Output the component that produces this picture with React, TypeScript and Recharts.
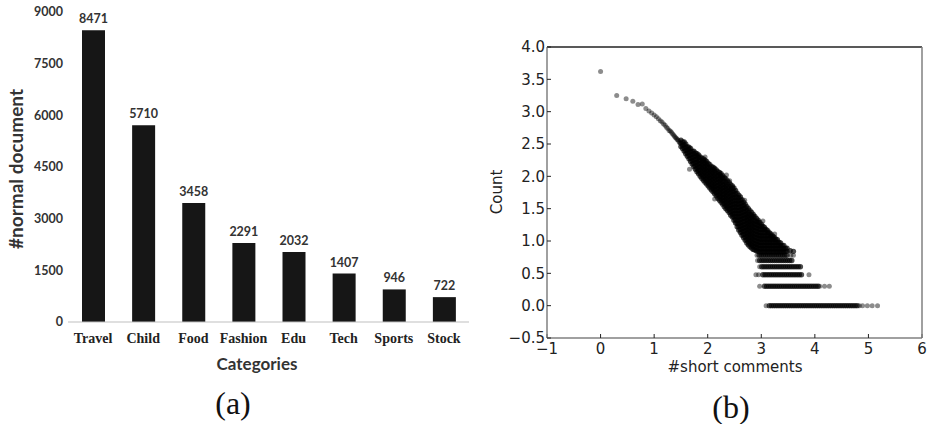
import { BarChart, Bar, XAxis, YAxis, LabelList, ScatterChart, Scatter } from 'recharts';

// (a) documents per category
const categories = ['Travel', 'Child', 'Food', 'Fashion', 'Edu', 'Tech', 'Sports', 'Stock'];
const documentCounts = [8471, 5710, 3458, 2291, 2032, 1407, 946, 722];
const countTicks = [0, 1500, 3000, 4500, 6000, 7500, 9000];

// (b) log-log scatter
const xTicks = [-1, 0, 1, 2, 3, 4, 5, 6];
const yTicks = [-0.5, 0, 0.5, 1, 1.5, 2, 2.5, 3, 3.5, 4];

// sparse head of the curve
const headX = [0, 0.301, 0.477, 0.602, 0.699, 0.778, 0.845, 0.903, 0.954, 1.0, 1.041, 1.079, 1.114, 1.146, 1.176, 1.204, 1.23, 1.255, 1.279, 1.301, 1.322, 1.342, 1.362, 1.38, 1.398, 1.415, 1.431, 1.447, 1.462, 1.477];
const headY = [3.62, 3.25, 3.2, 3.16, 3.11, 3.12, 3.05, 3.01, 2.98, 2.95, 2.92, 2.89, 2.86, 2.84, 2.81, 2.79, 2.76, 2.74, 2.71, 2.7, 2.68, 2.66, 2.64, 2.62, 2.6, 2.59, 2.57, 2.56, 2.54, 2.52];

// dense band, one column of y values per x
const bandColumns: [number, number[]][] = [
  [1.5, [2.46, 2.51, 2.56]],
  [1.53, [2.43, 2.48, 2.53]],
  [1.56, [2.39, 2.44, 2.49, 2.53]],
  [1.59, [2.35, 2.4, 2.45, 2.5]],
  [1.62, [2.31, 2.36, 2.41, 2.46]],
  [1.65, [2.27, 2.32, 2.37, 2.42, 2.45]],
  [1.68, [2.23, 2.28, 2.33, 2.38, 2.43]],
  [1.71, [2.19, 2.24, 2.29, 2.34, 2.39]],
  [1.74, [2.15, 2.2, 2.25, 2.3, 2.35, 2.39]],
  [1.77, [2.11, 2.16, 2.21, 2.26, 2.31, 2.36]],
  [1.8, [2.07, 2.12, 2.17, 2.22, 2.27, 2.32, 2.35]],
  [1.83, [2.04, 2.09, 2.14, 2.19, 2.24, 2.29, 2.33]],
  [1.86, [2.0, 2.05, 2.1, 2.15, 2.2, 2.25, 2.3]],
  [1.89, [1.97, 2.02, 2.07, 2.12, 2.17, 2.22, 2.28]],
  [1.92, [1.94, 1.99, 2.04, 2.09, 2.14, 2.19, 2.24, 2.27]],
  [1.95, [1.91, 1.96, 2.01, 2.06, 2.11, 2.16, 2.21, 2.25]],
  [1.98, [1.88, 1.93, 1.98, 2.03, 2.08, 2.13, 2.18, 2.23]],
  [2.01, [1.85, 1.9, 1.95, 2.0, 2.05, 2.1, 2.15, 2.2]],
  [2.04, [1.82, 1.87, 1.92, 1.97, 2.02, 2.07, 2.12, 2.18]],
  [2.07, [1.79, 1.84, 1.89, 1.94, 1.99, 2.04, 2.09, 2.15]],
  [2.1, [1.76, 1.81, 1.86, 1.91, 1.96, 2.01, 2.06, 2.11, 2.14]],
  [2.13, [1.73, 1.78, 1.83, 1.88, 1.93, 1.98, 2.03, 2.08, 2.12]],
  [2.16, [1.7, 1.75, 1.8, 1.85, 1.9, 1.95, 2.0, 2.05, 2.1]],
  [2.19, [1.66, 1.71, 1.76, 1.81, 1.86, 1.91, 1.96, 2.01, 2.07]],
  [2.22, [1.63, 1.68, 1.73, 1.78, 1.83, 1.88, 1.93, 1.98, 2.03, 2.06]],
  [2.25, [1.6, 1.65, 1.7, 1.75, 1.8, 1.85, 1.9, 1.95, 2.0, 2.04]],
  [2.28, [1.57, 1.62, 1.67, 1.72, 1.77, 1.82, 1.87, 1.92, 1.97, 2.01]],
  [2.31, [1.53, 1.58, 1.63, 1.68, 1.73, 1.78, 1.83, 1.88, 1.93, 1.98]],
  [2.34, [1.5, 1.55, 1.6, 1.65, 1.7, 1.75, 1.8, 1.85, 1.9, 1.96]],
  [2.37, [1.47, 1.52, 1.57, 1.62, 1.67, 1.72, 1.77, 1.82, 1.87, 1.93]],
  [2.4, [1.44, 1.49, 1.54, 1.59, 1.64, 1.69, 1.74, 1.79, 1.84, 1.9]],
  [2.43, [1.4, 1.45, 1.5, 1.55, 1.6, 1.65, 1.7, 1.75, 1.8, 1.87]],
  [2.46, [1.37, 1.42, 1.47, 1.52, 1.57, 1.62, 1.67, 1.72, 1.77, 1.82, 1.85]],
  [2.49, [1.32, 1.37, 1.42, 1.47, 1.52, 1.57, 1.62, 1.67, 1.72, 1.77, 1.82]],
  [2.52, [1.28, 1.33, 1.38, 1.43, 1.48, 1.53, 1.58, 1.63, 1.68, 1.73, 1.78]],
  [2.55, [1.22, 1.27, 1.32, 1.37, 1.42, 1.47, 1.52, 1.57, 1.62, 1.67, 1.74]],
  [2.58, [1.17, 1.22, 1.27, 1.32, 1.37, 1.42, 1.47, 1.52, 1.57, 1.62, 1.67, 1.71]],
  [2.61, [1.13, 1.18, 1.23, 1.28, 1.33, 1.38, 1.43, 1.48, 1.53, 1.58, 1.63, 1.68]],
  [2.64, [1.09, 1.14, 1.19, 1.24, 1.29, 1.34, 1.39, 1.44, 1.49, 1.54, 1.59, 1.64]],
  [2.67, [1.05, 1.1, 1.15, 1.2, 1.25, 1.3, 1.35, 1.4, 1.45, 1.5, 1.55, 1.6]],
  [2.7, [1.01, 1.06, 1.11, 1.16, 1.21, 1.26, 1.31, 1.36, 1.41, 1.46, 1.51, 1.57]],
  [2.73, [0.97, 1.02, 1.07, 1.12, 1.17, 1.22, 1.27, 1.32, 1.37, 1.42, 1.47, 1.53]],
  [2.76, [0.94, 0.99, 1.04, 1.09, 1.14, 1.19, 1.24, 1.29, 1.34, 1.39, 1.44, 1.5]],
  [2.79, [0.91, 0.96, 1.01, 1.06, 1.11, 1.16, 1.21, 1.26, 1.31, 1.36, 1.41, 1.47]],
  [2.82, [0.89, 0.94, 0.99, 1.04, 1.09, 1.14, 1.19, 1.24, 1.29, 1.34, 1.39, 1.44]],
  [2.85, [0.87, 0.92, 0.97, 1.02, 1.07, 1.12, 1.17, 1.22, 1.27, 1.32, 1.37, 1.41]],
  [2.88, [0.86, 0.91, 0.96, 1.01, 1.06, 1.11, 1.16, 1.21, 1.26, 1.31, 1.38]],
  [2.91, [0.85, 0.9, 0.95, 1.0, 1.05, 1.1, 1.15, 1.2, 1.25, 1.3, 1.35]],
  [2.94, [0.84, 0.89, 0.94, 0.99, 1.04, 1.09, 1.14, 1.19, 1.24, 1.29, 1.32]],
  [2.97, [0.83, 0.88, 0.93, 0.98, 1.03, 1.08, 1.13, 1.18, 1.23, 1.29]],
  [3.0, [0.83, 0.88, 0.93, 0.98, 1.03, 1.08, 1.13, 1.18, 1.23, 1.26]],
  [3.03, [0.83, 0.88, 0.93, 0.98, 1.03, 1.08, 1.13, 1.18, 1.23]],
  [3.06, [0.83, 0.88, 0.93, 0.98, 1.03, 1.08, 1.13, 1.18, 1.21]],
  [3.09, [0.83, 0.88, 0.93, 0.98, 1.03, 1.08, 1.13, 1.18]],
  [3.12, [0.83, 0.88, 0.93, 0.98, 1.03, 1.08, 1.13, 1.16]],
  [3.15, [0.83, 0.88, 0.93, 0.98, 1.03, 1.08, 1.13]],
  [3.18, [0.83, 0.88, 0.93, 0.98, 1.03, 1.08, 1.11]],
  [3.21, [0.83, 0.88, 0.93, 0.98, 1.03, 1.08]],
  [3.24, [0.83, 0.88, 0.93, 0.98, 1.03, 1.06]],
  [3.27, [0.83, 0.88, 0.93, 0.98, 1.03]],
  [3.3, [0.83, 0.88, 0.93, 0.98, 1.02]],
  [3.33, [0.83, 0.88, 0.93, 0.98]],
  [3.36, [0.83, 0.88, 0.93, 0.97]],
  [3.39, [0.83, 0.88, 0.93]],
  [3.42, [0.83, 0.88, 0.93]],
  [3.45, [0.84, 0.89]],
  [3.48, [0.84, 0.89]],
  [3.54, [0.85]],
  [3.6, [0.84]],
];

// discrete rows at low counts: log10(1), log10(2) ...
const rowLevels = [0, 0.301, 0.477, 0.602, 0.699, 0.778];
const rowXs: number[][] = [
  [3.15, 3.19, 3.23, 3.27, 3.31, 3.35, 3.39, 3.43, 3.47, 3.51, 3.55, 3.59, 3.63, 3.67, 3.71, 3.75, 3.79, 3.83, 3.87, 3.91, 3.95, 3.99, 4.03, 4.07, 4.11, 4.15, 4.19, 4.23, 4.27, 4.31, 4.35, 4.39, 4.43, 4.47, 4.51, 4.55, 4.59, 4.63, 4.67, 4.71, 4.75, 4.79],
  [3.06, 3.1, 3.14, 3.18, 3.22, 3.26, 3.3, 3.34, 3.38, 3.42, 3.46, 3.5, 3.54, 3.58, 3.62, 3.66, 3.7, 3.74, 3.78, 3.82, 3.86, 3.9, 3.94, 3.98, 4.02, 4.06],
  [3.03, 3.07, 3.11, 3.15, 3.19, 3.23, 3.27, 3.31, 3.35, 3.39, 3.43, 3.47, 3.51, 3.55, 3.59, 3.63, 3.67, 3.71, 3.75],
  [3.01, 3.05, 3.09, 3.13, 3.17, 3.21, 3.25, 3.29, 3.33, 3.37, 3.41, 3.45, 3.49, 3.53, 3.57, 3.61, 3.65, 3.69, 3.73],
  [2.97, 3.01, 3.05, 3.09, 3.13, 3.17, 3.21, 3.25, 3.29, 3.33, 3.37, 3.41, 3.45, 3.49, 3.53, 3.57],
  [2.96, 3.0, 3.04, 3.08, 3.12, 3.16, 3.2, 3.24, 3.28, 3.32, 3.36, 3.4, 3.44, 3.48],
];

// lone points: row ends and strays around the band
const strayX = [3.09, 4.83, 4.89, 4.98, 5.07, 5.17, 2.97, 4.09, 4.18, 4.27, 2.9, 2.95, 3.89, 2.97, 2.93, 2.92, 3.55, 3.6, 1.66, 2.13, 2.35, 2.69, 3.03, 3.25, 2.41, 1.95];
const strayY = [0, 0, 0, 0, 0, 0, 0.301, 0.301, 0.301, 0.301, 0.477, 0.477, 0.477, 0.602, 0.699, 0.778, 0.778, 0.778, 2.11, 1.65, 2.02, 1.63, 1.31, 1.11, 1.93, 2.3];

const barData = categories.map((category, i) => ({ category, count: documentCounts[i] }));

const densePoints = [
  ...bandColumns.flatMap(([x, ys]) => ys.map((y) => ({ x, y }))),
  ...rowLevels.flatMap((y, i) => rowXs[i].map((x) => ({ x, y }))),
];
const sparsePoints = [
  ...headX.map((x, i) => ({ x, y: headY[i] })),
  ...strayX.map((x, i) => ({ x, y: strayY[i] })),
];

const minus = (v: number, digits: number) => {
  const s = Math.abs(v).toFixed(digits);
  return v < 0 ? '\u2212' + s : s;
};

const SparseDot = (props: any) => (
  <circle cx={props.cx} cy={props.cy} r={2.5} fill="#000" fillOpacity={0.45} />
);
const DenseDot = (props: any) => (
  <circle cx={props.cx} cy={props.cy} r={2.7} fill="#000" fillOpacity={0.7} />
);

const calibri = 'Lato, "Open Sans", sans-serif';
const dejavu = '"DejaVu Sans", sans-serif';

export default function App() {
  return (
    <div style={{ position: 'absolute', left: 0, top: 0, width: 932, height: 424, background: '#fff', overflow: 'hidden' }}>
      {/* (a) bar chart */}
      <div style={{ position: 'absolute', left: 0, top: 0 }}>
        <BarChart width={470} height={424} data={barData} margin={{ top: 12, right: 1, bottom: 72, left: 8 }}>
          <XAxis
            dataKey="category"
            height={30}
            interval={0}
            axisLine={{ stroke: '#bfbfbf', strokeWidth: 1 }}
            tickLine={false}
            tickMargin={5}
            tick={{ fill: '#222', fontFamily: '"Liberation Serif", serif', fontWeight: 700, fontSize: 14 }}
          />
          <YAxis
            width={60}
            domain={[0, 9000]}
            ticks={countTicks}
            interval={0}
            axisLine={false}
            tickLine={false}
            tickSize={3}
            tickMargin={2}
            tick={{ fill: '#333', fontFamily: calibri, fontWeight: 700, fontSize: 12.5 }}
          />
          <Bar dataKey="count" fill="#161616" barSize={23} isAnimationActive={false}>
            <LabelList dataKey="count" position="top" offset={7} fill="#333" fontSize={12.5} fontWeight={700} fontFamily={calibri} />
          </Bar>
        </BarChart>
      </div>
      <div style={{ position: 'absolute', left: 15, top: 169, transform: 'translate(-50%, -50%) rotate(-90deg)', fontFamily: calibri, fontWeight: 700, fontSize: 19, color: '#333', whiteSpace: 'nowrap' }}>
        #normal document
      </div>
      <div style={{ position: 'absolute', left: 257, top: 363, transform: 'translate(-50%, -50%)', fontFamily: calibri, fontWeight: 700, fontSize: 17, color: '#333', whiteSpace: 'nowrap' }}>
        Categories
      </div>
      <div style={{ position: 'absolute', left: 233, top: 403, transform: 'translate(-50%, -50%)', fontFamily: '"Liberation Serif", serif', fontSize: 32, color: '#111', lineHeight: 1 }}>
        (a)
      </div>

      {/* (b) scatter plot */}
      <div style={{ position: 'absolute', left: 470, top: 0 }}>
        <ScatterChart width={462} height={424} margin={{ top: 46, right: 9, bottom: 56, left: 37 }}>
          <XAxis
            xAxisId="bottom"
            type="number"
            dataKey="x"
            domain={[-1, 6]}
            ticks={xTicks}
            interval={0}
            height={30}
            allowDataOverflow
            axisLine={{ stroke: '#808080', strokeWidth: 1.5 }}
            tickLine={{ stroke: '#222' }}
            tickSize={-4}
            tickMargin={9}
            tickFormatter={(v: number) => minus(v, 0)}
            tick={{ fill: '#222', fontFamily: dejavu, fontSize: 15 }}
          />
          <XAxis
            xAxisId="top"
            orientation="top"
            type="number"
            dataKey="x"
            domain={[-1, 6]}
            ticks={xTicks}
            interval={0}
            height={1}
            allowDataOverflow
            axisLine={{ stroke: '#222', strokeWidth: 1.5 }}
            tickLine={{ stroke: '#222' }}
            tickSize={-4}
            tick={false}
          />
          <YAxis
            yAxisId="left"
            type="number"
            dataKey="y"
            domain={[-0.5, 4]}
            ticks={yTicks}
            interval={0}
            width={40}
            allowDataOverflow
            axisLine={{ stroke: '#808080', strokeWidth: 1.5 }}
            tickLine={{ stroke: '#222' }}
            tickSize={-4}
            tickMargin={6}
            tickFormatter={(v: number) => minus(v, 1)}
            tick={{ fill: '#222', fontFamily: dejavu, fontSize: 15 }}
          />
          <YAxis
            yAxisId="right"
            orientation="right"
            type="number"
            dataKey="y"
            domain={[-0.5, 4]}
            ticks={yTicks}
            interval={0}
            width={1}
            allowDataOverflow
            axisLine={{ stroke: '#808080', strokeWidth: 1.5 }}
            tickLine={{ stroke: '#222' }}
            tickSize={-4}
            tick={false}
          />
          <Scatter xAxisId="bottom" yAxisId="left" data={sparsePoints} shape={SparseDot} isAnimationActive={false} />
          <Scatter xAxisId="bottom" yAxisId="left" data={densePoints} shape={DenseDot} isAnimationActive={false} />
          <Scatter xAxisId="top" yAxisId="right" data={[]} isAnimationActive={false} />
        </ScatterChart>
      </div>
      <div style={{ position: 'absolute', left: 497, top: 192, transform: 'translate(-50%, -50%) rotate(-90deg)', fontFamily: dejavu, fontSize: 15, color: '#222', whiteSpace: 'nowrap' }}>
        Count
      </div>
      <div style={{ position: 'absolute', left: 735, top: 367, transform: 'translate(-50%, -50%)', fontFamily: dejavu, fontSize: 15, color: '#222', whiteSpace: 'nowrap' }}>
        #short comments
      </div>
      <div style={{ position: 'absolute', left: 731, top: 407, transform: 'translate(-50%, -50%)', fontFamily: '"Liberation Serif", serif', fontSize: 32, color: '#111', lineHeight: 1 }}>
        (b)
      </div>
    </div>
  );
}
